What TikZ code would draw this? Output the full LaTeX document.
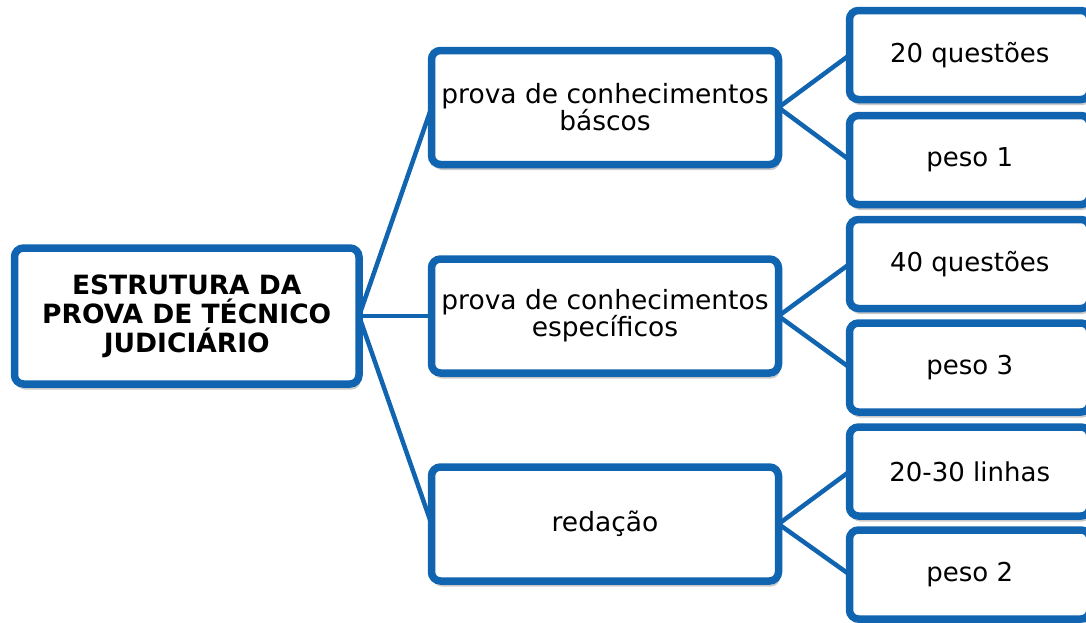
\documentclass[tikz,border=0pt]{standalone}
\usepackage{fontspec}
\setmainfont{DejaVu Sans}
\usetikzlibrary{shadows,backgrounds}
\definecolor{smblue}{RGB}{16,100,176}
\begin{document}
\begin{tikzpicture}[x=1pt,y=-1pt,
  box/.style={draw=smblue, line width=7.5pt, fill=white, rounded corners=9pt,
    outer sep=0pt, inner sep=0pt, align=center, text=black,
    drop shadow={shadow xshift=1.5pt, shadow yshift=-5.5pt, opacity=0.35, fill=black!60}},
  rootbox/.style={box, minimum width=344.5pt, minimum height=136pt,
    font=\fontsize{26.5}{29}\selectfont\bfseries},
  midbox/.style={box, minimum width=347pt, minimum height=114pt,
    font=\fontsize{26.5}{27}\selectfont},
  leafbox/.style={box, minimum width=240.5pt, minimum height=89pt,
    font=\fontsize{26}{27}\selectfont},
  link/.style={draw=smblue, line width=4.5pt}]
\useasboundingbox (0,0) rectangle (1086,622);
\clip (0,0) rectangle (1086,622);

\node[rootbox] (root) at (186.75,316) {ESTRUTURA DA\\PROVA DE TÉCNICO\\JUDICIÁRIO};

\node[midbox] (m1) at (605,107.5) {prova de conhecimentos\\báscos};
\node[midbox] (m2) at (605,316) {prova de conhecimentos\\específicos};
\node[midbox] (m3) at (605,524) {redação};

\node[leafbox] (l1) at (969.75,55) {20 questões};
\node[leafbox] (l2) at (969.75,160) {peso 1};
\node[leafbox] (l3) at (969.75,264) {40 questões};
\node[leafbox] (l4) at (969.75,367.5) {peso 3};
\node[leafbox] (l5) at (969.75,471.5) {20-30 linhas};
\node[leafbox] (l6) at (969.75,574.5) {peso 2};

\begin{scope}[on background layer]
  \draw[link] (root.east) -- (m1.west);
  \draw[link] (root.east) -- (m2.west);
  \draw[link] (root.east) -- (m3.west);
  \draw[link] (m1.east) -- (l1.west);
  \draw[link] (m1.east) -- (l2.west);
  \draw[link] (m2.east) -- (l3.west);
  \draw[link] (m2.east) -- (l4.west);
  \draw[link] (m3.east) -- (l5.west);
  \draw[link] (m3.east) -- (l6.west);
\end{scope}
\end{tikzpicture}
\end{document}
